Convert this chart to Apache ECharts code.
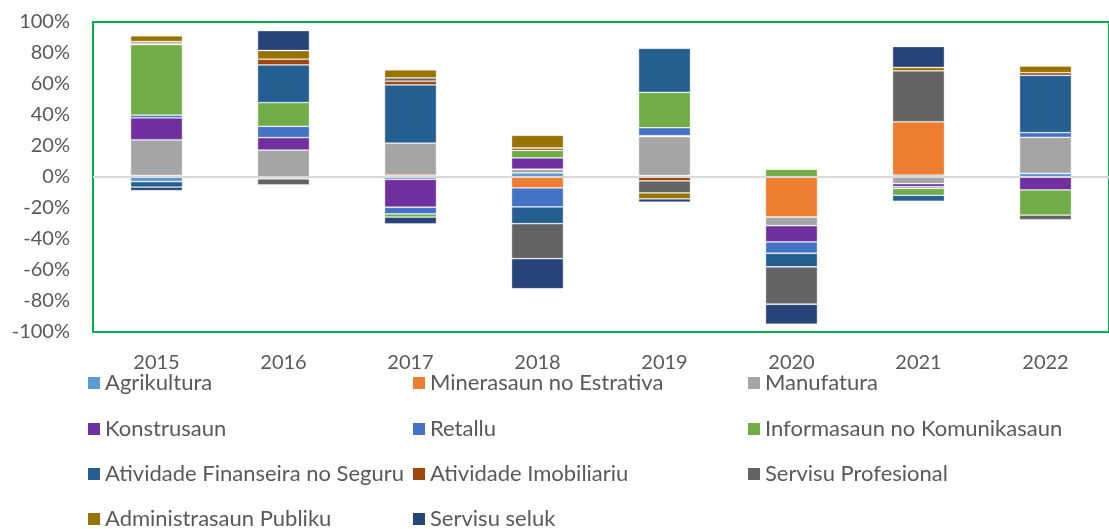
<!DOCTYPE html>
<html>
<head>
<meta charset="utf-8">
<script src="https://cdn.jsdelivr.net/npm/echarts@6/dist/echarts.min.js"></script>
<style>
  html, body { margin: 0; padding: 0; background: #fff; }
  #chart { width: 1109px; height: 529px; }
</style>
</head>
<body>
<div id="chart"></div>
<script>
// 年份
const years = ['2015', '2016', '2017', '2018', '2019', '2020', '2021', '2022'];

// 各部门贡献 (%)
const agrikultura = [-3.0, -1.2, -1.5, 2.6, 1.0, 0, 1.2, 2.4];
const minerasaun = [1.0, 0, 1.2, -7.0, 0, -25.8, 34.4, 0];
const manufatura = [23.0, 17.4, 20.6, 2.4, 25.0, -5.6, -4.3, 23.2];
const konstrusaun = [14.2, 8.0, -18.0, 7.3, 0.6, -10.5, -2.0, -8.3];
const retallu = [1.7, 7.3, -4.3, -12.3, 5.2, -7.3, -1.0, 3.0];
const informasaun = [45.6, 15.3, -2.1, 4.9, 22.8, 5.0, -4.5, -16.3];
const finanseira = [-3.5, 24.3, 37.6, -10.8, 28.4, -8.8, -3.9, 37.0];
const imobiliariu = [0.9, 3.7, 2.4, 1.5, -2.5, 0, 0, 1.7];
const profesional = [1.0, -3.9, 2.1, -22.6, -7.7, -24.1, 32.9, -3.0];
const administrasaun = [3.7, 5.6, 5.2, 8.2, -3.9, 0, 2.2, 4.3];
const seluk = [-2.3, 12.9, -4.3, -19.4, -2.1, -12.9, 13.5, -0.6];

// y 轴刻度
const yTicks = [-100, -80, -60, -40, -20, 0, 20, 40, 60, 80, 100];

const seriesDefs = [
  { name: 'Agrikultura', data: agrikultura, color: '#5B9BD5' },
  { name: 'Minerasaun no Estrativa', data: minerasaun, color: '#ED7D31' },
  { name: 'Manufatura', data: manufatura, color: '#A5A5A5' },
  { name: 'Konstrusaun', data: konstrusaun, color: '#7030A0' },
  { name: 'Retallu', data: retallu, color: '#4472C4' },
  { name: 'Informasaun no Komunikasaun', data: informasaun, color: '#70AD47' },
  { name: 'Atividade Finanseira no Seguru', data: finanseira, color: '#255E91' },
  { name: 'Atividade Imobiliariu', data: imobiliariu, color: '#9E480E' },
  { name: 'Servisu Profesional', data: profesional, color: '#636363' },
  { name: 'Administrasaun Publiku', data: administrasaun, color: '#997300' },
  { name: 'Servisu seluk', data: seluk, color: '#264478' }
];

const font = 'Lato, "Open Sans", sans-serif';
const textColor = '#595959';

// 图例三列排布，每项单独定位
const legendCols = [88, 413, 748];
const legendRows = [372, 418, 463, 508];

const legends = seriesDefs.map((s, i) => ({
  orient: 'horizontal',
  left: legendCols[i % 3],
  top: legendRows[Math.floor(i / 3)],
  padding: 0,
  icon: 'rect',
  itemWidth: 12,
  itemHeight: 12,
  itemGap: 0,
  itemTextGap: 7,
  itemStyle: { borderWidth: 0 },
  textStyle: { fontFamily: font, fontSize: 22, color: textColor, lineHeight: 22 },
  data: [s.name]
}));

const chart = echarts.init(document.getElementById('chart'));

const option = {
  animation: false,
  backgroundColor: '#fff',
  grid: {
    left: 93,
    top: 22,
    width: 1032,
    height: 310,
    show: true,
    borderColor: '#00B050',
    borderWidth: 2,
    backgroundColor: 'transparent'
  },
  legend: legends,
  xAxis: {
    type: 'category',
    data: years,
    axisLine: { show: false, onZero: false },
    axisTick: { show: false },
    axisLabel: { fontFamily: font, fontSize: 20, color: textColor, margin: 21 }
  },
  yAxis: {
    type: 'value',
    min: yTicks[0],
    max: yTicks[yTicks.length - 1],
    interval: 20,
    axisLine: { show: false },
    axisTick: { show: false },
    splitLine: { show: false },
    axisLabel: {
      fontFamily: font,
      fontSize: 20,
      color: textColor,
      margin: 23,
      formatter: '{value}%'
    }
  },
  series: seriesDefs.map((s, i) => {
    const item = {
      name: s.name,
      type: 'bar',
      stack: 'total',
      barWidth: 52,
      data: s.data,
      itemStyle: {
        color: s.color,
        borderColor: 'rgba(255,255,255,0.45)',
        borderWidth: 0.8
      }
    };
    // 零线
    if (i === 0) {
      item.markLine = {
        silent: true,
        symbol: 'none',
        label: { show: false },
        lineStyle: { color: '#D9D9D9', width: 2, type: 'solid' },
        data: [{ yAxis: 0 }]
      };
    }
    return item;
  })
};

chart.setOption(option);
</script>
</body>
</html>
